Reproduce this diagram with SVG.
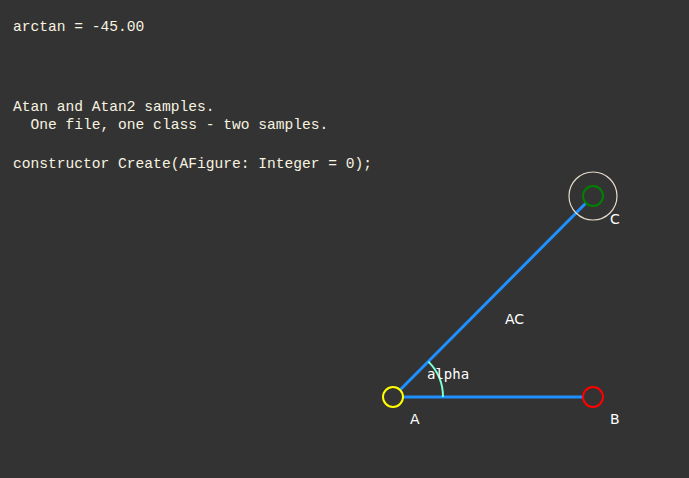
<svg xmlns="http://www.w3.org/2000/svg" width="689" height="478" viewBox="0 0 689 478">
<style>
.code{font-family:"Liberation Mono","DejaVu Sans Mono",monospace;font-size:14.6px;fill:#f8f4e0;white-space:pre}
.lbl{font-family:"DejaVu Sans","Liberation Sans",sans-serif;font-size:14px;fill:#ffffff}
.mono{font-family:"DejaVu Sans Mono","Liberation Mono",monospace;font-size:14px;fill:#ffffff}
.edge{stroke:#1e90ff;stroke-width:3;fill:none}
.pt{fill:none;stroke-width:2}
</style>
<rect width="689" height="478" fill="#333333"/>
<g id="text">
<text class="code" x="13" y="31">arctan = -45.00</text>
<text class="code" x="13" y="111">Atan and Atan2 samples.</text>
<text class="code" x="13" y="129" xml:space="preserve">  One file, one class - two samples.</text>
<text class="code" x="13" y="168">constructor Create(AFigure: Integer = 0);</text>
</g>
<g id="connectors">
<line class="edge" x1="403" y1="397" x2="583" y2="397"/>
<line class="edge" x1="400" y1="390" x2="586" y2="203"/>
<path d="M443,397 A50,50 0 0 0 428.4,361.6" fill="none" stroke="#7fffd4" stroke-width="2"/>
<text class="lbl" x="505" y="324">AC</text>
<text class="mono" x="427" y="379">alpha</text>
</g>
<g id="A">
<circle class="pt" cx="393" cy="397" r="10" stroke="#ffff00"/>
<text class="lbl" x="410" y="424">A</text>
</g>
<g id="B">
<circle class="pt" cx="593" cy="397" r="10" stroke="#ff0000"/>
<text class="lbl" x="610" y="424">B</text>
</g>
<g id="C">
<circle cx="593" cy="196" r="24" fill="none" stroke="#e6dccb" stroke-width="1.2"/>
<circle class="pt" cx="593" cy="196" r="10" stroke="#008000"/>
<text class="lbl" x="610" y="224">C</text>
</g>
</svg>
